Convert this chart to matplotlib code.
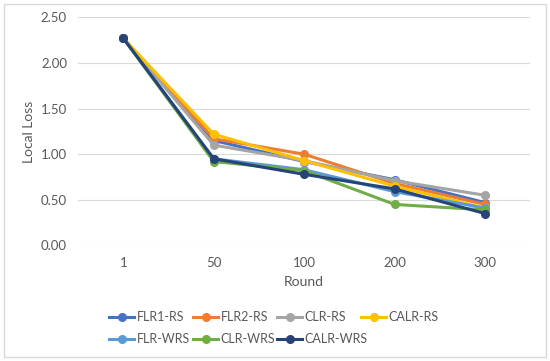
import matplotlib
matplotlib.use("Agg")
import matplotlib.pyplot as plt
from matplotlib.patches import Rectangle

# data
rounds = ["1", "50", "100", "200", "300"]
flr1_rs = [2.27, 1.15, 0.92, 0.72, 0.47]
flr2_rs = [2.27, 1.17, 1.00, 0.68, 0.45]
clr_rs = [2.27, 1.10, 0.93, 0.71, 0.55]
calr_rs = [2.27, 1.22, 0.93, 0.65, 0.41]
flr_wrs = [2.27, 0.95, 0.83, 0.59, 0.41]
clr_wrs = [2.27, 0.92, 0.82, 0.45, 0.39]
calr_wrs = [2.27, 0.95, 0.78, 0.62, 0.35]

series = [
    ("FLR1-RS", flr1_rs, "#4472C4"),
    ("FLR2-RS", flr2_rs, "#ED7D31"),
    ("CLR-RS", clr_rs, "#A5A5A5"),
    ("CALR-RS", calr_rs, "#FFC000"),
    ("FLR-WRS", flr_wrs, "#5B9BD5"),
    ("CLR-WRS", clr_wrs, "#70AD47"),
    ("CALR-WRS", calr_wrs, "#264478"),
]

plt.rcParams['font.family'] = ['Lato', 'DejaVu Sans']
txt = "#595959"
W, H = 550, 361

fig = plt.figure(figsize=(5.5, 3.61), dpi=100)
ax = fig.add_axes([0.142, 0.32, 0.822, 0.632])

x = range(len(rounds))
lines = []
for name, vals, col in series:
    ln, = ax.plot(x, vals, color=col, lw=2.2, marker="o", ms=5.5, label=name)
    lines.append(ln)

ax.set_xlim(-0.5, len(rounds) - 0.5)
ax.set_ylim(0, 2.5)
ax.set_yticks([0, 0.5, 1.0, 1.5, 2.0, 2.5])
ax.set_yticklabels(["%.2f" % v for v in ax.get_yticks()])
ax.set_xticks(list(x))
ax.set_xticklabels(rounds)
ax.grid(axis="y", color="#D9D9D9", lw=0.8)
ax.set_axisbelow(True)
for s in ax.spines.values():
    s.set_visible(False)
ax.tick_params(length=0, colors=txt, labelsize=9.5, pad=8)
ax.set_xlabel("Round", color=txt, fontsize=10, labelpad=5)
ax.set_ylabel("Local Loss", color=txt, fontsize=10, labelpad=4)

# Excel style legend: fixed-width slots, 4 per row
for i, ln in enumerate(lines):
    px = 109 + 84 * (i % 4)
    py = 317 + 22 * (i // 4)
    leg = fig.legend([ln], [series[i][0]], loc="center left",
                     bbox_to_anchor=(px / W, 1 - py / H), frameon=False,
                     fontsize=9, labelcolor=txt, handlelength=2.0,
                     handletextpad=0.2, borderpad=0, borderaxespad=0)

fig.patches.append(Rectangle((0.008, 0.012), 0.984, 0.976, transform=fig.transFigure,
                             fill=False, edgecolor="#D9D9D9", lw=1))

fig.savefig("out.png", dpi=100)
